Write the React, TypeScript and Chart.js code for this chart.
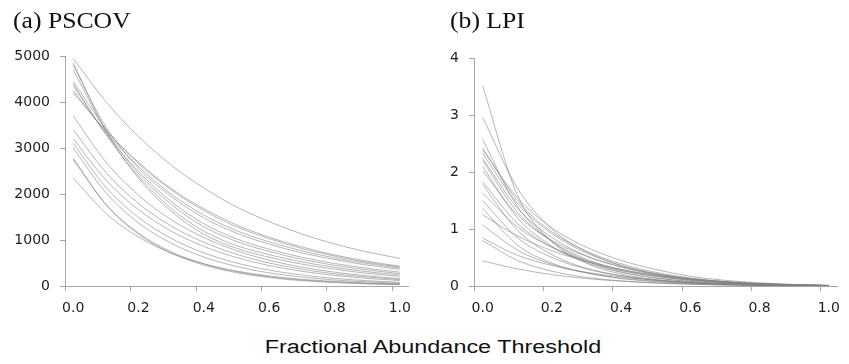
import React, { useEffect, useRef } from 'react';
import { Chart, registerables } from 'chart.js';

Chart.register(...registerables);

// ---------- data ----------
const thresholds = [0, 0.1, 0.2, 0.3, 0.4, 0.5, 0.6, 0.7, 0.8, 0.9, 1.0];
const xTickValues = [0, 0.2, 0.4, 0.6, 0.8, 1.0];
const pscovYTicks = [0, 1000, 2000, 3000, 4000, 5000];
const lpiYTicks = [0, 1, 2, 3, 4];

const panelTitles = ['(a) PSCOV', '(b) LPI'];
const xAxisTitle = 'Fractional Abundance Threshold';

// (a) PSCOV curves
const pscov01 = [4950, 4010, 3250, 2630, 2130, 1720, 1400, 1130, 915, 740, 600];
const pscov02 = [4200, 3380, 2690, 2120, 1680, 1330, 1060, 850, 675, 540, 430];
const pscov03 = [4450, 3420, 2660, 2090, 1640, 1290, 1030, 815, 650, 515, 410];
const pscov04 = [4250, 3350, 2600, 2000, 1540, 1205, 960, 765, 610, 490, 390];
const pscov05 = [4800, 3460, 2560, 1950, 1480, 1150, 910, 720, 575, 455, 360];
const pscov06 = [4350, 3320, 2490, 1835, 1355, 1025, 800, 625, 490, 385, 300];
const pscov07 = [4700, 3380, 2445, 1775, 1290, 970, 750, 580, 450, 350, 270];
const pscov08 = [4400, 3290, 2385, 1685, 1190, 880, 680, 525, 405, 310, 240];
const pscov09 = [4850, 3375, 2345, 1625, 1125, 820, 625, 475, 365, 275, 210];
const pscov10 = [3700, 2700, 1975, 1440, 1055, 770, 560, 410, 300, 220, 160];
const pscov11 = [3400, 2470, 1795, 1305, 950, 690, 500, 365, 265, 195, 140];
const pscov12 = [3200, 2305, 1660, 1195, 860, 620, 445, 320, 230, 165, 120];
const pscov13 = [3100, 2150, 1490, 1035, 720, 500, 345, 240, 165, 115, 80];
const pscov14 = [3000, 2030, 1370, 930, 630, 425, 285, 195, 130, 90, 60];
const pscov15 = [2780, 1770, 1125, 715, 455, 290, 185, 115, 75, 45, 30];
const pscov16 = [2750, 1780, 1150, 745, 480, 310, 200, 130, 85, 55, 35];
const pscov17 = [2350, 1580, 1065, 715, 485, 325, 220, 145, 100, 65, 45];

// (b) LPI curves
const lpi01 = [3.51, 1.60, 0.78, 0.40, 0.21, 0.11, 0.06, 0.03, 0.015, 0.008, 0.004];
const lpi02 = [2.96, 1.72, 1.00, 0.60, 0.36, 0.21, 0.12, 0.065, 0.035, 0.018, 0.008];
const lpi03 = [2.57, 1.40, 0.78, 0.44, 0.25, 0.14, 0.08, 0.045, 0.025, 0.013, 0.006];
const lpi04 = [2.42, 1.50, 0.95, 0.61, 0.39, 0.24, 0.14, 0.08, 0.045, 0.022, 0.01];
const lpi05 = [2.39, 1.55, 1.02, 0.68, 0.45, 0.29, 0.17, 0.10, 0.055, 0.028, 0.012];
const lpi06 = [2.33, 1.45, 0.92, 0.58, 0.36, 0.22, 0.13, 0.075, 0.04, 0.02, 0.008];
const lpi07 = [2.24, 1.37, 0.85, 0.53, 0.33, 0.20, 0.12, 0.07, 0.04, 0.02, 0.008];
const lpi08 = [2.20, 1.30, 0.78, 0.47, 0.28, 0.17, 0.10, 0.06, 0.033, 0.017, 0.007];
const lpi09 = [2.10, 1.20, 0.70, 0.41, 0.24, 0.14, 0.08, 0.045, 0.025, 0.012, 0.005];
const lpi10 = [2.02, 1.25, 0.80, 0.52, 0.34, 0.21, 0.13, 0.075, 0.04, 0.02, 0.008];
const lpi11 = [1.83, 1.10, 0.68, 0.43, 0.27, 0.17, 0.10, 0.06, 0.033, 0.016, 0.006];
const lpi12 = [1.78, 0.98, 0.55, 0.31, 0.18, 0.10, 0.06, 0.033, 0.018, 0.009, 0.004];
const lpi13 = [1.63, 1.04, 0.68, 0.45, 0.29, 0.18, 0.11, 0.065, 0.035, 0.017, 0.007];
const lpi14 = [1.50, 0.85, 0.50, 0.30, 0.18, 0.11, 0.065, 0.037, 0.02, 0.01, 0.004];
const lpi15 = [1.36, 0.72, 0.40, 0.23, 0.13, 0.075, 0.043, 0.024, 0.013, 0.006, 0.003];
const lpi16 = [1.25, 0.88, 0.62, 0.43, 0.29, 0.19, 0.12, 0.07, 0.038, 0.018, 0.007];
const lpi17 = [1.07, 0.63, 0.38, 0.23, 0.14, 0.085, 0.05, 0.028, 0.015, 0.007, 0.003];
const lpi18 = [0.84, 0.54, 0.36, 0.24, 0.16, 0.10, 0.06, 0.036, 0.02, 0.01, 0.004];
const lpi19 = [0.80, 0.45, 0.26, 0.15, 0.09, 0.052, 0.03, 0.017, 0.009, 0.004, 0.002];
const lpi20 = [0.44, 0.30, 0.20, 0.13, 0.085, 0.055, 0.034, 0.02, 0.011, 0.005, 0.002];

const pscovSeries = [pscov01, pscov02, pscov03, pscov04, pscov05, pscov06, pscov07, pscov08, pscov09,
  pscov10, pscov11, pscov12, pscov13, pscov14, pscov15, pscov16, pscov17];
const lpiSeries = [lpi01, lpi02, lpi03, lpi04, lpi05, lpi06, lpi07, lpi08, lpi09, lpi10,
  lpi11, lpi12, lpi13, lpi14, lpi15, lpi16, lpi17, lpi18, lpi19, lpi20];

// ---------- styles ----------
const lineColor = 'rgba(130,130,130,0.58)';
const axisColor = '#a6a6a6';
const tickColor = '#1e1e1e';
const tickFont = { family: 'DejaVu Sans', size: 14 };
const xTickShift = 0.025; // x tick marks sit half a step before each label
const tickLen = 5;

// draws the x-axis tick marks, shifted half a step left of the labels (as in the source figure)
const shiftedXTicks = {
  id: 'shiftedXTicks',
  afterDraw(chart: any) {
    const sx = chart.scales.x;
    const ctx = chart.ctx;
    ctx.save();
    ctx.strokeStyle = axisColor;
    ctx.lineWidth = 1;
    ctx.beginPath();
    xTickValues.forEach((v) => {
      const px = Math.round(sx.getPixelForValue(v - xTickShift)) + 0.5;
      ctx.moveTo(px, sx.top);
      ctx.lineTo(px, sx.top + tickLen);
    });
    ctx.stroke();
    ctx.restore();
  },
};

type PanelProps = {
  series: number[][];
  yTicks: number[];
  left: number;
  width: number;
  height: number;
  yAxisWidth: number;
  padTop: number;
  padRight: number;
};

function LinePanel(p: PanelProps) {
  const ref = useRef<HTMLCanvasElement>(null);
  useEffect(() => {
    const chart = new Chart(ref.current as HTMLCanvasElement, {
      type: 'line',
      data: {
        datasets: p.series.map((s) => ({
          data: s.map((y, i) => ({ x: thresholds[i], y })),
          borderColor: lineColor,
          borderWidth: 1,
          pointRadius: 0,
          cubicInterpolationMode: 'monotone',
          fill: false,
        })),
      },
      options: {
        responsive: false,
        animation: false,
        events: [],
        layout: { padding: { top: p.padTop, right: p.padRight, left: 0, bottom: 0 } },
        plugins: { legend: { display: false }, tooltip: { enabled: false }, title: { display: false } },
        scales: {
          x: {
            type: 'linear',
            min: -xTickShift,
            max: 1 + xTickShift,
            afterBuildTicks: (s: any) => { s.ticks = xTickValues.map((v) => ({ value: v })); },
            afterFit: (s: any) => { s.height = 44; },
            ticks: {
              callback: (v: any) => Number(v).toFixed(1),
              font: tickFont,
              color: tickColor,
              padding: 9,
              maxRotation: 0,
              autoSkip: false,
            },
            grid: { drawOnChartArea: false, drawTicks: true, tickLength: tickLen, color: 'rgba(0,0,0,0)' },
            border: { color: axisColor },
          },
          y: {
            type: 'linear',
            min: p.yTicks[0],
            max: p.yTicks[p.yTicks.length - 1],
            afterBuildTicks: (s: any) => { s.ticks = p.yTicks.map((v) => ({ value: v })); },
            afterFit: (s: any) => { s.width = p.yAxisWidth; },
            ticks: { font: tickFont, color: tickColor, padding: 10, callback: (v: any) => String(v) },
            grid: { drawOnChartArea: false, tickLength: tickLen, color: axisColor },
            border: { color: axisColor },
          },
        },
      } as any,
      plugins: [shiftedXTicks],
    });
    return () => chart.destroy();
  }, []);
  return (
    <canvas
      ref={ref}
      width={p.width}
      height={p.height}
      style={{ position: 'absolute', left: p.left, top: 0, width: p.width, height: p.height }}
    />
  );
}

const titleStyle: React.CSSProperties = {
  position: 'absolute',
  top: 7,
  fontFamily: '"Liberation Serif", "Times New Roman", serif',
  fontSize: 24,
  color: '#111',
  whiteSpace: 'nowrap',
  transform: 'scaleX(1.07)',
  transformOrigin: 'left top',
};

export default function App() {
  return (
    <div style={{ position: 'absolute', left: 0, top: 0, width: 849, height: 364, background: '#fff', overflow: 'hidden' }}>
      <LinePanel series={pscovSeries} yTicks={pscovYTicks} left={0} width={425} height={330} yAxisWidth={65} padTop={56} padRight={17} />
      <LinePanel series={lpiSeries} yTicks={lpiYTicks} left={430} width={419} height={330} yAxisWidth={44} padTop={58} padRight={4} />
      <div style={{ ...titleStyle, left: 13 }}>{panelTitles[0]}</div>
      <div style={{ ...titleStyle, left: 450 }}>{panelTitles[1]}</div>
      <div
        style={{
          position: 'absolute',
          left: 433,
          top: 337,
          fontFamily: '"Liberation Sans", Arial, sans-serif',
          fontSize: 18,
          color: '#111',
          whiteSpace: 'nowrap',
          transform: 'translateX(-50%) scaleX(1.3)',
        }}
      >
        {xAxisTitle}
      </div>
    </div>
  );
}
